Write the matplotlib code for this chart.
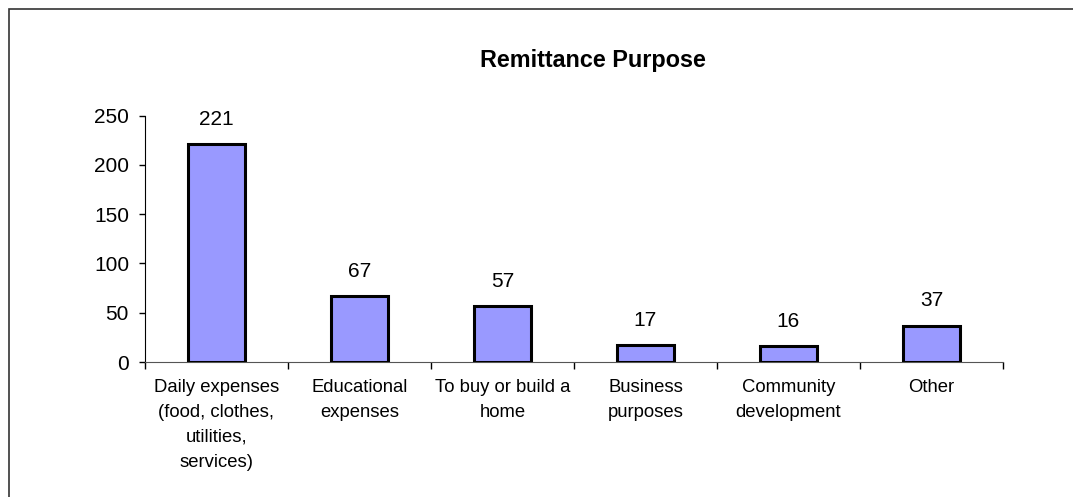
import matplotlib
matplotlib.use("Agg")
import matplotlib.pyplot as plt
from matplotlib.patches import Rectangle
import numpy as np

plt.rcParams['font.family'] = ['Liberation Sans', 'DejaVu Sans']

categories = [
    "Daily expenses\n(food, clothes,\nutilities,\nservices)",
    "Educational\nexpenses",
    "To buy or build a\nhome",
    "Business\npurposes",
    "Community\ndevelopment",
    "Other",
]
values = [221, 67, 57, 17, 16, 37]
y_ticks = [0, 50, 100, 150, 200, 250]
title = "Remittance Purpose"

W, H = 1073, 497
fig = plt.figure(figsize=(W / 100, H / 100), dpi=100)
fig.patch.set_facecolor("white")

# Chart-area border (runs off the right and bottom edges)
fig.patches.append(Rectangle((8.5 / W, -0.1), 1.2, 1.1 - 8.5 / H,
                             transform=fig.transFigure, fill=False,
                             edgecolor="#333333", linewidth=1.2))

ax = fig.add_axes([145 / W, 1 - 362 / H, 858 / W, (362 - 115.5) / H])

x = np.arange(len(categories))
ax.bar(x, values, width=0.4, color="#9999FF", edgecolor="black",
       linewidth=2.2, zorder=3)

for xi, v in zip(x, values):
    ax.annotate(str(v), (xi, v), xytext=(0, 11), textcoords="offset points",
                ha="center", va="bottom", fontsize=15)

ax.set_xlim(-0.5, len(categories) - 0.5)
ax.set_ylim(0, 250)
ax.set_yticks(y_ticks)
ax.set_yticklabels([str(t) for t in y_ticks], fontsize=15)
ax.tick_params(axis="y", direction="out", length=4.5, width=1, pad=7)

ax.set_xticks(x)
ax.set_xticklabels(categories, fontsize=13.3, linespacing=1.62, va="top")
ax.tick_params(axis="x", which="major", length=0, pad=12)
ax.set_xticks(np.arange(len(categories) + 1) - 0.5, minor=True)
ax.tick_params(axis="x", which="minor", direction="out", length=5, width=1)

for s in ["top", "right"]:
    ax.spines[s].set_visible(False)
ax.spines["left"].set_color("black")
ax.spines["bottom"].set_color("#555555")

fig.text(592.5 / W, 1 - 60 / H, title, ha="center", va="center",
         fontsize=16.8, fontweight="bold")

fig.savefig("out.png", dpi=100, facecolor="white")
